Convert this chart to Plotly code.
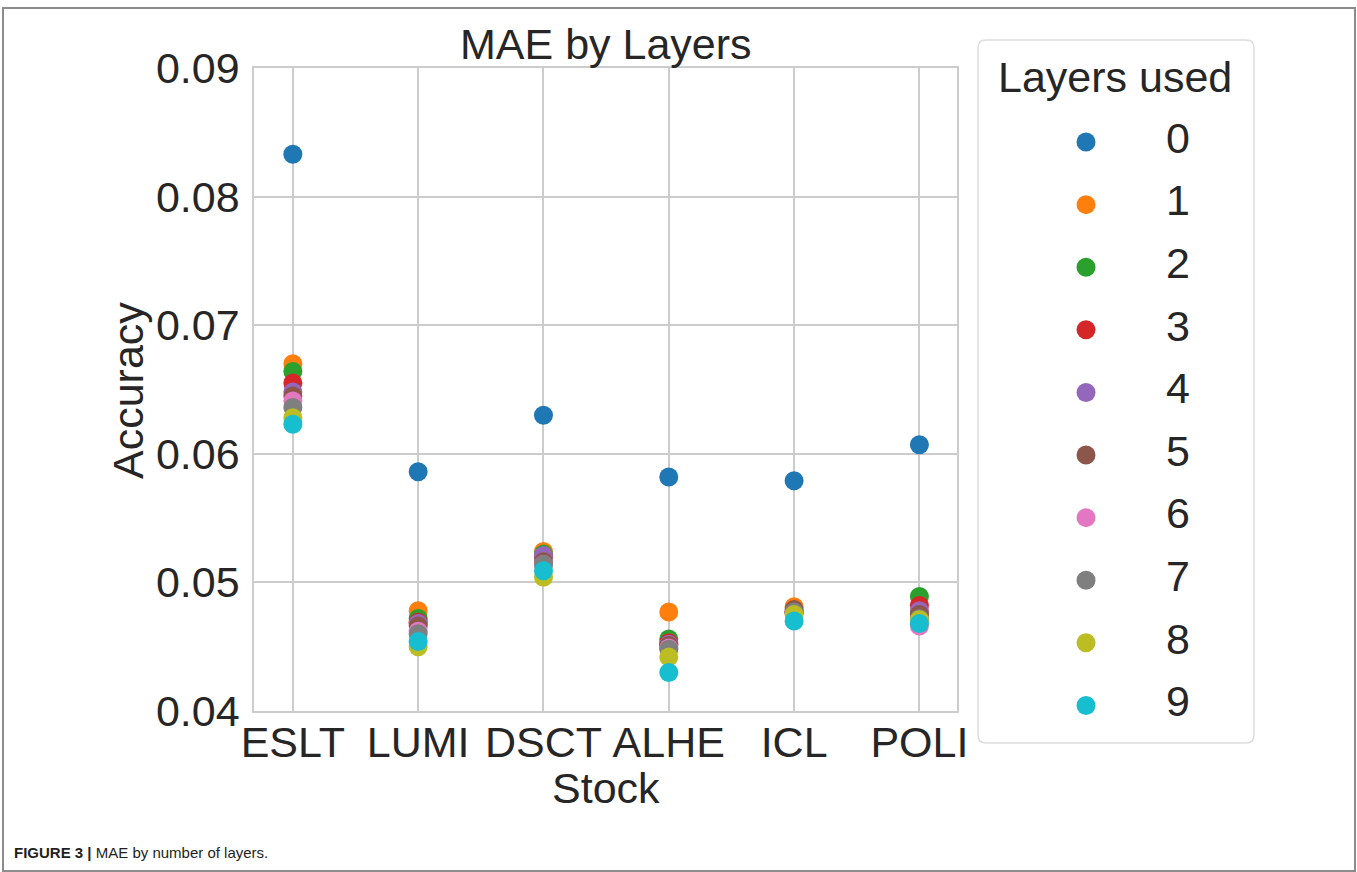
import plotly.graph_objects as go

W, H = 1357, 872

# Stocks on the x axis
stocks = ["ESLT", "LUMI", "DSCT", "ALHE", "ICL", "POLI"]

# Number of layers used (one series per value)
layers = ["0", "1", "2", "3", "4", "5", "6", "7", "8", "9"]

# MAE per stock for each layer count
mae_0 = [0.0833, 0.0586, 0.0630, 0.0582, 0.0579, 0.0607]
mae_1 = [0.0670, 0.0478, 0.0524, 0.0477, 0.0481, 0.0476]
mae_2 = [0.0664, 0.0472, 0.0522, 0.0456, 0.0477, 0.0489]
mae_3 = [0.0655, 0.0469, 0.0520, 0.0453, 0.0477, 0.0482]
mae_4 = [0.0648, 0.0468, 0.0521, 0.0452, 0.0477, 0.0478]
mae_5 = [0.0645, 0.0466, 0.0516, 0.0451, 0.0479, 0.0475]
mae_6 = [0.0641, 0.0462, 0.0514, 0.0449, 0.0476, 0.0466]
mae_7 = [0.0636, 0.0460, 0.0514, 0.0448, 0.0477, 0.0472]
mae_8 = [0.0628, 0.0450, 0.0504, 0.0442, 0.0475, 0.0471]
mae_9 = [0.0623, 0.0454, 0.0509, 0.0430, 0.0470, 0.0468]
mae_series = [mae_0, mae_1, mae_2, mae_3, mae_4, mae_5, mae_6, mae_7, mae_8, mae_9]

y_ticks = [0.04, 0.05, 0.06, 0.07, 0.08, 0.09]

colors = ["#1f77b4", "#ff7f0e", "#2ca02c", "#d62728", "#9467bd",
          "#8c564b", "#e377c2", "#7f7f7f", "#bcbd22", "#17becf"]

FONT = "Liberation Sans, Arial, Helvetica, sans-serif"
TXT = "#262626"
GRID = "#cccccc"
FS = 43


def px(x):
    return x / W


def py(y):
    return (H - y) / H


fig = go.Figure()

for name, vals, col in zip(layers, mae_series, colors):
    fig.add_trace(go.Scatter(
        x=stocks, y=vals, mode="markers", name=name,
        marker=dict(size=19, color=col, line=dict(width=0)),
        xaxis="x", yaxis="y", showlegend=False,
    ))

# Hand-built legend: markers and labels placed on a helper axis pair
legend_idx = list(range(len(layers)))
fig.add_trace(go.Scatter(
    x=[0] * len(layers), y=legend_idx, mode="markers",
    marker=dict(size=19, color=colors, line=dict(width=0)),
    xaxis="x2", yaxis="y2", showlegend=False, hoverinfo="skip",
))
fig.add_trace(go.Scatter(
    x=[1] * len(layers), y=legend_idx, mode="text", text=layers,
    textposition="middle center",
    textfont=dict(family=FONT, size=FS, color=TXT),
    xaxis="x2", yaxis="y2", showlegend=False, hoverinfo="skip",
))

fig.update_layout(
    width=W, height=H,
    margin=dict(l=0, r=0, t=0, b=0, autoexpand=False),
    paper_bgcolor="white", plot_bgcolor="white",
    font=dict(family=FONT, size=FS, color=TXT),
    xaxis=dict(
        domain=[px(254), px(957)], anchor="y", automargin=False,
        type="category", categoryorder="array", categoryarray=stocks,
        range=[-0.31, 5.30],
        showgrid=True, gridcolor=GRID, gridwidth=1.5,
        showline=True, mirror=True, linecolor=GRID, linewidth=1.5,
        ticks="", ticklabelstandoff=-7,
        tickfont=dict(size=FS, color=TXT), zeroline=False,
    ),
    yaxis=dict(
        domain=[py(711), py(68)], anchor="x", automargin=False,
        range=[0.04, 0.09], tickvals=y_ticks, tickformat=".2f",
        showgrid=True, gridcolor=GRID, gridwidth=1.5,
        showline=True, mirror=True, linecolor=GRID, linewidth=1.5,
        ticks="outside", ticklen=4, tickcolor="rgba(0,0,0,0)",
        tickfont=dict(size=FS, color=TXT), zeroline=False,
    ),
    xaxis2=dict(
        domain=[px(978), px(1254)], anchor="y2", automargin=False,
        range=[-1.174, 1.826], visible=False, fixedrange=True,
    ),
    yaxis2=dict(
        domain=[py(743), py(40)], anchor="x2", automargin=False,
        range=[9.60, -1.63], visible=False, fixedrange=True,
    ),
    shapes=[
        # legend frame with rounded corners
        dict(type="path", xref="paper", yref="paper",
             path=(f"M {px(986)},{py(40)} L {px(1246)},{py(40)} "
                   f"Q {px(1254)},{py(40)} {px(1254)},{py(48)} "
                   f"L {px(1254)},{py(735)} "
                   f"Q {px(1254)},{py(743)} {px(1246)},{py(743)} "
                   f"L {px(986)},{py(743)} "
                   f"Q {px(978)},{py(743)} {px(978)},{py(735)} "
                   f"L {px(978)},{py(48)} "
                   f"Q {px(978)},{py(40)} {px(986)},{py(40)} Z"),
             line=dict(color="#dddddd", width=1.5), fillcolor="rgba(255,255,255,0.8)",
             layer="below"),
        # outer figure frame
        dict(type="rect", xref="paper", yref="paper",
             x0=px(3), x1=px(1355), y0=py(871), y1=py(8),
             line=dict(color="#8c8c8c", width=2), fillcolor="rgba(0,0,0,0)"),
    ],
    annotations=[
        dict(text="MAE by Layers", xref="paper", yref="paper",
             x=px(606), y=py(44), xanchor="center", yanchor="middle",
             showarrow=False, font=dict(size=FS, color=TXT)),
        dict(text="Accuracy", xref="paper", yref="paper",
             x=px(128), y=py(391), xanchor="center", yanchor="middle",
             textangle=-90, showarrow=False, font=dict(size=FS, color=TXT)),
        dict(text="Stock", xref="paper", yref="paper",
             x=px(606), y=py(788), xanchor="center", yanchor="middle",
             showarrow=False, font=dict(size=FS, color=TXT)),
        dict(text="Layers used", xref="paper", yref="paper",
             x=px(1115), y=py(77), xanchor="center", yanchor="middle",
             showarrow=False, font=dict(size=FS, color=TXT)),
        dict(text="<b>FIGURE 3 |</b> MAE by number of layers.",
             xref="paper", yref="paper",
             x=px(12), y=py(852), xanchor="left", yanchor="middle",
             showarrow=False,
             font=dict(size=15, color="#231f20", family=FONT)),
    ],
)

fig.write_html("out.html")
